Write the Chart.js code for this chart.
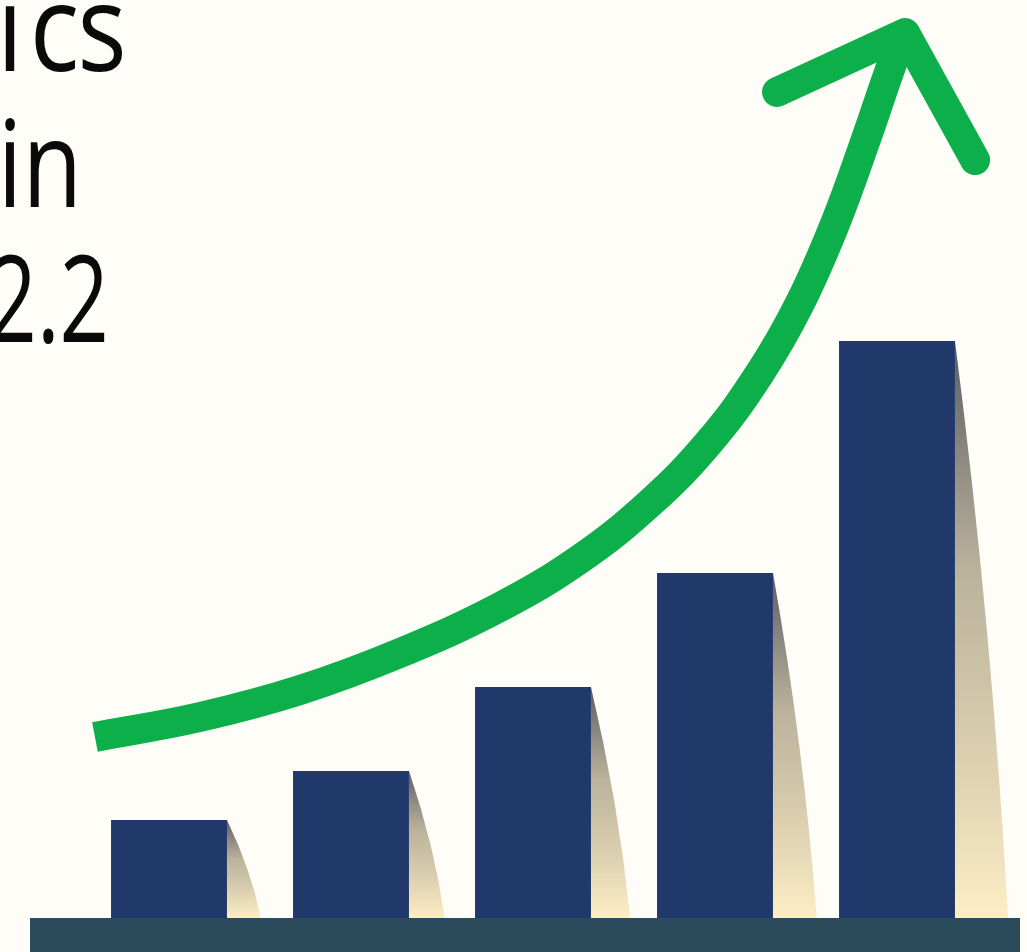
<!DOCTYPE html>
<html><head><meta charset="utf-8">
<script src="https://cdn.jsdelivr.net/npm/chart.js@4.4.0/dist/chart.umd.min.js"></script>
<style>
html,body{margin:0;padding:0;background:#fefdf7;overflow:hidden;}
#wrap{position:relative;width:1027px;height:952px;overflow:hidden;}
#c{position:absolute;left:0;top:0;}
.t{position:absolute;font-family:"Open Sans",sans-serif;font-size:120px;line-height:120px;color:#0a0a0a;white-space:nowrap;text-align:right;transform-origin:100% 50%;}
</style></head>
<body><div id="wrap">
<canvas id="c" width="1027" height="952"></canvas>
<div class="t" style="left:-375px;width:500px;top:-35px;transform:scaleX(0.86);letter-spacing:-2px;"><span style="margin-right:10px;">i</span>cs</div>
<div class="t" style="left:-418px;width:500px;top:101px;transform:scaleX(0.81);">in</div>
<div class="t" style="left:-391px;width:500px;top:236px;transform:scaleX(0.72);">2.2</div>
</div>
<script>
// ---- data ----
const categories = ['1', '2', '3', '4', '5'];
const barValues = [0.98, 1.47, 2.31, 3.45, 5.77];
// growth arrow (x in category-index units, y in bar value units)
const arrowX = [-0.407, 0.170, 0.720, 1.269, 1.819, 2.258, 2.643, 2.973, 3.247, 3.467, 3.659, 3.824, 3.962, 4.033];
const arrowY = [1.81, 2.01, 2.28, 2.65, 3.11, 3.59, 4.15, 4.77, 5.45, 6.15, 6.94, 7.76, 8.49, 8.83];
const headX = [3.341, 4.044, 4.429];
const headY = [8.26, 8.85, 7.58];

const GREEN = '#0daf4b';

const shadowPlugin = {
  id: 'barShadows',
  beforeDatasetsDraw(chart) {
    const ctx = chart.ctx;
    const meta = chart.getDatasetMeta(0);
    meta.data.forEach(bar => {
      const right = bar.x + bar.width / 2;
      const top = bar.y, base = bar.base;
      const h = base - top;
      const w = 30 + 0.04 * h;
      const g = ctx.createLinearGradient(0, top, 0, base);
      g.addColorStop(0, 'rgba(80,82,92,0.95)');
      g.addColorStop(0.4, 'rgba(175,165,140,0.85)');
      g.addColorStop(1, 'rgba(253,238,196,1)');
      ctx.save();
      ctx.beginPath();
      ctx.moveTo(right, top);
      ctx.quadraticCurveTo(right + 0.7 * w, top + 0.5 * h, right + w, base);
      ctx.lineTo(right, base);
      ctx.closePath();
      ctx.fillStyle = g;
      ctx.fill();
      ctx.restore();
    });
  },
  afterDatasetsDraw(chart) {
    const ctx = chart.ctx;
    const y0 = chart.scales.y.getPixelForValue(0);
    ctx.save();
    ctx.fillStyle = '#2b4a5c';
    ctx.fillRect(30, y0, 990, chart.height - y0);
    ctx.restore();
  }
};

new Chart(document.getElementById('c'), {
  data: {
    labels: categories,
    datasets: [
      {
        type: 'bar', data: barValues, xAxisID: 'x', yAxisID: 'y',
        backgroundColor: '#21386a', borderWidth: 0, grouped: false,
        barPercentage: 0.637, categoryPercentage: 1, order: 2
      },
      {
        type: 'line', data: arrowX.map((x, i) => ({x, y: arrowY[i]})),
        xAxisID: 'xa', yAxisID: 'y', borderColor: GREEN, borderWidth: 30,
        pointRadius: 0, tension: 0.4, borderCapStyle: 'butt',
        borderJoinStyle: 'round', fill: false, clip: false, order: 1
      },
      {
        type: 'line', data: headX.map((x, i) => ({x, y: headY[i]})),
        xAxisID: 'xa', yAxisID: 'y', borderColor: GREEN, borderWidth: 30,
        pointRadius: 0, tension: 0, borderCapStyle: 'round',
        borderJoinStyle: 'round', fill: false, clip: false, order: 0
      }
    ]
  },
  options: {
    responsive: false,
    animation: false,
    events: [],
    layout: { padding: { left: 78, right: 39, top: 18, bottom: 34 } },
    plugins: { legend: { display: false }, tooltip: { enabled: false }, title: { display: false } },
    scales: {
      x: { type: 'category', display: false, offset: true, grid: { display: false } },
      xa: { type: 'linear', display: false, min: -0.5, max: 4.5 },
      y: { type: 'linear', display: false, min: 0, max: 9 }
    }
  },
  plugins: [shadowPlugin]
});
</script>
</body></html>
